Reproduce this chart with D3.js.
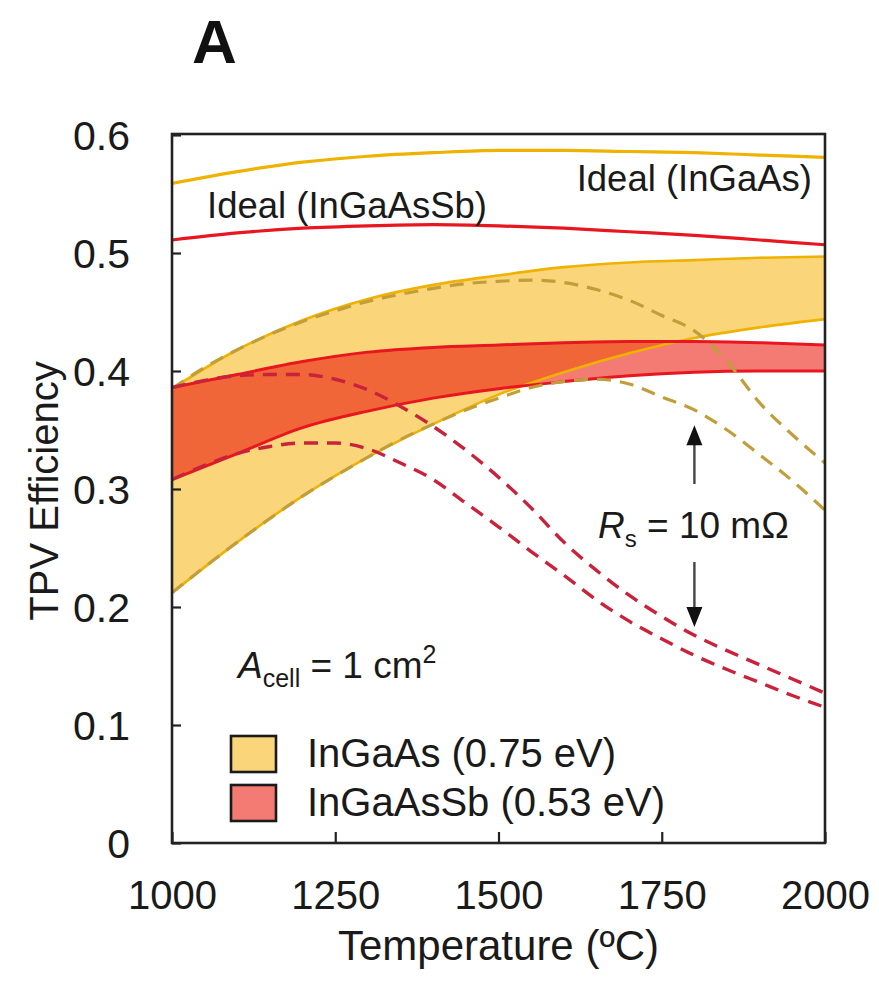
<!DOCTYPE html>
<html>
<head>
<meta charset="utf-8">
<script src="https://cdn.jsdelivr.net/npm/d3@7"></script>
<style>
  html, body { margin: 0; padding: 0; background: #fff; }
  svg { display: block; }
  text { font-family: "Liberation Sans", Arial, Helvetica, sans-serif; fill: #1a1a1a; }
</style>
</head>
<body>
<svg id="chart" width="879" height="982"></svg>
<script>
// ---------------- data ----------------
const temps = [1000, 1100, 1200, 1300, 1400, 1500, 1600, 1700, 1800, 1900, 2000];
const idealInGaAs   = [0.559, 0.569, 0.577, 0.582, 0.585, 0.587, 0.587, 0.586, 0.585, 0.583, 0.581];
const idealInGaAsSb = [0.511, 0.517, 0.521, 0.523, 0.524, 0.523, 0.521, 0.518, 0.515, 0.511, 0.507];
const inGaAsUpper   = [0.385, 0.418, 0.443, 0.461, 0.473, 0.481, 0.488, 0.492, 0.494, 0.496, 0.497];
const inGaAsLower   = [0.212, 0.255, 0.294, 0.327, 0.355, 0.380, 0.399, 0.415, 0.428, 0.437, 0.444];
const inGaAsSbUpper = [0.386, 0.397, 0.408, 0.416, 0.420, 0.422, 0.424, 0.425, 0.425, 0.424, 0.422];
const inGaAsSbLower = [0.308, 0.330, 0.352, 0.366, 0.377, 0.385, 0.391, 0.396, 0.399, 0.400, 0.400];

const tempsRs = [1000, 1050, 1100, 1150, 1200, 1250, 1300, 1350, 1400, 1450, 1500,
                 1550, 1600, 1650, 1700, 1750, 1800, 1850, 1900, 1950, 2000];
const rsInGaAsUpper   = [0.385, 0.403, 0.418, 0.431, 0.442, 0.451, 0.459, 0.465, 0.470, 0.474, 0.476,
                         0.477, 0.475, 0.469, 0.460, 0.447, 0.434, 0.408, 0.373, 0.346, 0.322];
const rsInGaAsLower   = [0.212, 0.234, 0.255, 0.275, 0.294, 0.311, 0.327, 0.342, 0.355, 0.367, 0.377,
                         0.386, 0.391, 0.393, 0.389, 0.378, 0.367, 0.350, 0.329, 0.307, 0.282];
const rsInGaAsSbUpper = [0.386, 0.392, 0.396, 0.397, 0.397, 0.393, 0.384, 0.370, 0.353, 0.333, 0.310,
                         0.284, 0.255, 0.231, 0.210, 0.192, 0.176, 0.163, 0.151, 0.139, 0.127];
const rsInGaAsSbLower = [0.308, 0.320, 0.330, 0.336, 0.339, 0.339, 0.334, 0.322, 0.308, 0.288, 0.268,
                         0.247, 0.227, 0.206, 0.188, 0.173, 0.159, 0.147, 0.136, 0.125, 0.115];

const xTicks = [1000, 1250, 1500, 1750, 2000];
const yTicks = [0, 0.1, 0.2, 0.3, 0.4, 0.5, 0.6];
const legendLabels = ["InGaAs (0.75 eV)", "InGaAsSb (0.53 eV)"];
const arrowT = 1800, arrowUpTip = 0.354, arrowDownTip = 0.183;

// ---------------- layout ----------------
const svg = d3.select("#chart");
const L = 172, R = 825, T0 = 135, B = 843;
const x = d3.scaleLinear().domain([1000, 2000]).range([L, R]);
const y = d3.scaleLinear().domain([0, 0.6]).range([B, T0]);

const COL = {
  yellowFill: "#fbd57a", redFill: "#f47a74",
  yellowLine: "#efb200", redLine: "#e8161f",
  yellowDash: "#c29e3a", redDash: "#c8233a"
};

svg.append("defs").append("clipPath").attr("id", "clip")
  .append("rect").attr("x", L).attr("y", T0 - 2).attr("width", R - L).attr("height", B - T0 + 2);

const plot = svg.append("g").attr("clip-path", "url(#clip)");

const zip = (xs, a, b) => xs.map((t, i) => ({ t, lo: a[i], hi: b ? b[i] : a[i] }));
const area = d3.area().x(d => x(d.t)).y0(d => y(d.lo)).y1(d => y(d.hi)).curve(d3.curveMonotoneX);
const line = d3.line().x(d => x(d.t)).y(d => y(d.hi)).curve(d3.curveMonotoneX);

// bands
plot.append("path").datum(zip(temps, inGaAsLower, inGaAsUpper))
  .attr("d", area).attr("fill", COL.yellowFill);
plot.append("path").datum(zip(temps, inGaAsSbLower, inGaAsSbUpper))
  .attr("d", area).attr("fill", COL.redFill).style("mix-blend-mode", "multiply");

// solid lines
function solid(xs, vals, color, w) {
  plot.append("path").datum(zip(xs, vals)).attr("d", line)
    .attr("fill", "none").attr("stroke", color).attr("stroke-width", w);
}
solid(temps, idealInGaAs, COL.yellowLine, 3.2);
solid(temps, idealInGaAsSb, COL.redLine, 3.2);
solid(temps, inGaAsUpper, COL.yellowLine, 2.6);
solid(temps, inGaAsLower, COL.yellowLine, 2.6);
solid(temps, inGaAsSbUpper, COL.redLine, 3);
solid(temps, inGaAsSbLower, COL.redLine, 3);

// dashed (Rs = 10 mOhm)
function dashed(xs, vals, color, w) {
  plot.append("path").datum(zip(xs, vals)).attr("d", line)
    .attr("fill", "none").attr("stroke", color).attr("stroke-width", w)
    .attr("stroke-dasharray", "14,9");
}
dashed(tempsRs, rsInGaAsUpper, COL.yellowDash, 3.2);
dashed(tempsRs, rsInGaAsLower, COL.yellowDash, 3.2);
dashed(tempsRs, rsInGaAsSbUpper, COL.redDash, 3.4);
dashed(tempsRs, rsInGaAsSbLower, COL.redDash, 3.4);

// axes
const yAxis = svg.append("g").attr("transform", `translate(${L},0)`)
  .call(d3.axisLeft(y).tickValues(yTicks).tickFormat(d3.format(".1~f")).tickSizeInner(-9).tickSizeOuter(0).tickPadding(42));
yAxis.select(".domain").remove();
yAxis.selectAll(".tick line").attr("stroke", "#222").attr("stroke-width", 2.2);
yAxis.selectAll(".tick text").attr("font-size", 41).attr("fill", "#1a1a1a")
  .attr("font-family", '"Liberation Sans", Arial, sans-serif').attr("dy", "0.36em");

const xAxis = svg.append("g").attr("transform", `translate(0,${B})`)
  .call(d3.axisBottom(x).tickValues(xTicks).tickFormat(d3.format("d")).tickSizeInner(-11).tickSizeOuter(0));
xAxis.select(".domain").remove();
xAxis.selectAll(".tick line").attr("stroke", "#222").attr("stroke-width", 2.2);
xAxis.selectAll(".tick text").attr("font-size", 40).attr("fill", "#1a1a1a")
  .attr("font-family", '"Liberation Sans", Arial, sans-serif').attr("dy", null).attr("y", 66);

// frame
svg.append("rect").attr("x", L).attr("y", T0 - 1).attr("width", R - L).attr("height", B - T0 + 1)
  .attr("fill", "none").attr("stroke", "#222").attr("stroke-width", 2.6);

// titles
svg.append("text").attr("x", 192).attr("y", 63).attr("font-size", 62).attr("font-weight", "bold")
  .style("fill", "#111").text("A");
svg.append("text").attr("x", (L + R) / 2).attr("y", 960).attr("text-anchor", "middle")
  .attr("font-size", 42).text("Temperature (ºC)");
svg.append("text").attr("transform", "translate(58,491) rotate(-90)").attr("text-anchor", "middle")
  .attr("font-size", 40).text("TPV Efficiency");

// curve labels
svg.append("text").attr("x", 812).attr("y", 191).attr("text-anchor", "end")
  .attr("font-size", 36.5).text("Ideal (InGaAs)");
svg.append("text").attr("x", 207).attr("y", 218)
  .attr("font-size", 36.5).text("Ideal (InGaAsSb)");

// Rs annotation
const rs = svg.append("text").attr("x", 598).attr("y", 538).attr("font-size", 37);
rs.append("tspan").attr("font-style", "italic").text("R");
rs.append("tspan").attr("font-size", 24).attr("dy", 9).text("s");
rs.append("tspan").attr("dy", -9).text(" = 10 mΩ");

const ax = x(arrowT);
svg.append("line").attr("x1", ax).attr("x2", ax).attr("y1", 484).attr("y2", y(arrowUpTip) + 14)
  .attr("stroke", "#444").attr("stroke-width", 2.4);
svg.append("path").attr("d", `M${ax},${y(arrowUpTip)} L${ax - 8},${y(arrowUpTip) + 20} L${ax + 8},${y(arrowUpTip) + 20} Z`)
  .attr("fill", "#111");
svg.append("line").attr("x1", ax).attr("x2", ax).attr("y1", 562).attr("y2", y(arrowDownTip) - 14)
  .attr("stroke", "#444").attr("stroke-width", 2.4);
svg.append("path").attr("d", `M${ax},${y(arrowDownTip)} L${ax - 8},${y(arrowDownTip) - 20} L${ax + 8},${y(arrowDownTip) - 20} Z`)
  .attr("fill", "#111");

// A_cell annotation
const ac = svg.append("text").attr("x", 238).attr("y", 678).attr("font-size", 37);
ac.append("tspan").attr("font-style", "italic").text("A");
ac.append("tspan").attr("font-size", 25).attr("dy", 9).text("cell");
ac.append("tspan").attr("dy", -9).text(" = 1 cm");
ac.append("tspan").attr("font-size", 25).attr("dy", -15).text("2");

// legend
const legendColors = [COL.yellowFill, COL.redFill];
const lg = svg.append("g");
legendLabels.forEach((lab, i) => {
  const yy = 736 + i * 49;
  lg.append("rect").attr("x", 231).attr("y", yy).attr("width", 45).attr("height", 36)
    .attr("fill", legendColors[i]).attr("stroke", "#1a1a1a").attr("stroke-width", 2.6);
  lg.append("text").attr("x", 307).attr("y", yy + 31).attr("font-size", 40).text(lab);
});
</script>
</body>
</html>
